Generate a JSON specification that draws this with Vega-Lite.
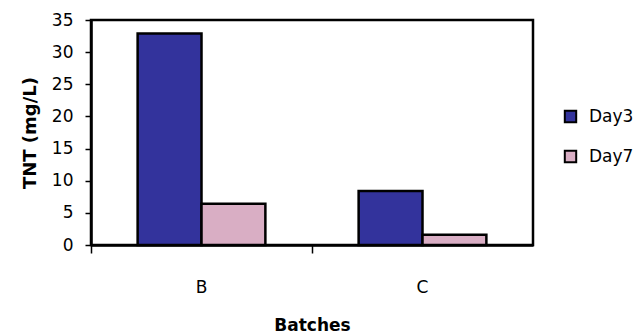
{
  "$schema": "https://vega.github.io/schema/vega-lite/v6.json",
  "autosize": "none",
  "padding": {"left": 91, "top": 20, "right": 103, "bottom": 89},
  "width": 442,
  "height": 225,
  "background": "white",
  "config": {
    "font": "DejaVu Sans",
    "view": {"stroke": "black", "strokeWidth": 2.5}
  },
  "data": {
    "values": [
      {"batch": "B", "day": "Day3", "tnt": 32.9},
      {"batch": "B", "day": "Day7", "tnt": 6.4},
      {"batch": "C", "day": "Day3", "tnt": 8.4},
      {"batch": "C", "day": "Day7", "tnt": 1.6}
    ]
  },
  "mark": {"type": "bar", "stroke": "black", "strokeWidth": 2.5},
  "encoding": {
    "x": {
      "field": "batch",
      "type": "nominal",
      "scale": {"paddingInner": 0, "paddingOuter": 0},
      "axis": {
        "title": "Batches",
        "titleFontSize": 17,
        "titleFontWeight": "bold",
        "titlePadding": 22,
        "labelAngle": 0,
        "labelFontSize": 17,
        "labelFontWeight": "normal",
        "labelPadding": 26,
        "labelColor": "black",
        "titleColor": "black",
        "bandPosition": 0,
        "tickSize": 8,
        "tickColor": "black",
        "tickWidth": 1.5,
        "domainColor": "black",
        "domainWidth": 2.5
      }
    },
    "xOffset": {
      "field": "day",
      "type": "nominal",
      "scale": {"paddingInner": 0, "paddingOuter": 0.73}
    },
    "y": {
      "field": "tnt",
      "type": "quantitative",
      "scale": {"domain": [0, 35], "nice": false},
      "axis": {
        "title": "TNT (mg/L)",
        "titleFontSize": 18,
        "titleFontWeight": "bold",
        "titleColor": "black",
        "titlePadding": 12,
        "values": [0, 5, 10, 15, 20, 25, 30, 35],
        "grid": false,
        "labelFontSize": 17,
        "labelColor": "black",
        "labelPadding": 12,
        "tickSize": 6,
        "tickColor": "black",
        "tickWidth": 1.5,
        "domainColor": "black",
        "domainWidth": 2.5
      }
    },
    "fill": {
      "field": "day",
      "type": "nominal",
      "scale": {"domain": ["Day3", "Day7"], "range": ["#33339c", "#d9aec4"]},
      "legend": {
        "title": null,
        "orient": "none",
        "legendX": 471,
        "legendY": 88,
        "symbolType": "square",
        "symbolSize": 130,
        "symbolStrokeColor": "black",
        "symbolStrokeWidth": 2,
        "labelFontSize": 17,
        "labelColor": "black",
        "rowPadding": 19,
        "labelOffset": 10
      }
    }
  }
}
